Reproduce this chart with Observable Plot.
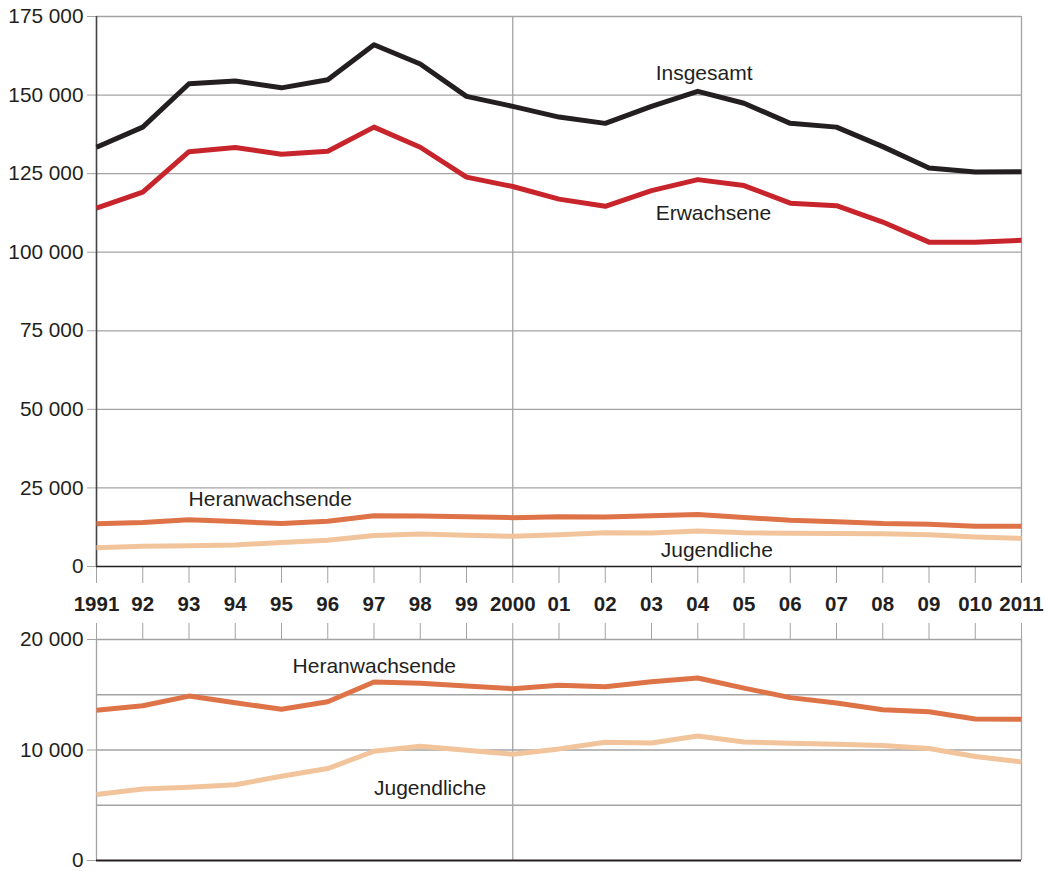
<!DOCTYPE html>
<html><head><meta charset="utf-8">
<script src="https://cdn.jsdelivr.net/npm/d3@7"></script>
<script src="https://cdn.jsdelivr.net/npm/@observablehq/plot@0.6"></script>
<style>
body{margin:0;background:#fff;}
#chart{width:1048px;height:871px;overflow:hidden;}
#chart svg{display:block;}
</style></head><body><div id="chart"></div>
<script>
const years = [1991,1992,1993,1994,1995,1996,1997,1998,1999,2000,2001,2002,2003,2004,2005,2006,2007,2008,2009,2010,2011];
const yearLabels = ["1991","92","93","94","95","96","97","98","99","2000","01","02","03","04","05","06","07","08","09","010","2011"];
const insgesamt = [133400,139800,153600,154500,152300,154900,166000,159900,149600,146400,143000,141000,146400,151200,147400,141000,139800,133600,126800,125500,125600];
const erwachsene = [114000,119100,132000,133300,131200,132100,139800,133400,123900,120900,116900,114600,119600,123100,121200,115600,114800,109600,103200,103200,103800];
const heranwachsende = [13590,14010,14880,14280,13680,14370,16150,16030,15790,15550,15850,15730,16180,16510,15600,14740,14250,13650,13470,12800,12780];
const jugendliche = [5980,6480,6640,6850,7630,8320,9890,10340,9980,9620,10100,10700,10640,11270,10730,10610,10520,10400,10130,9410,8920];
const topTicks = [0,25000,50000,75000,100000,125000,150000,175000];
const bottomGrid = [5000,10000,15000,20000];
const bottomTicks = [0,10000,20000];
// label anchors (year, value)
const topLabels = [
  {text:"Insgesamt", year:2003.09, value:157000},
  {text:"Erwachsene", year:2003.09, value:112500},
  {text:"Heranwachsende", year:1992.99, value:21300},
  {text:"Jugendliche", year:2003.2, value:5100}
];
const bottomLabels = [
  {text:"Heranwachsende", year:1995.24, value:17600},
  {text:"Jugendliche", year:1997.0, value:6550}
];

const fmt = d => d3.format(",")(d).replace(/,/g, " ");
const rows = (arr) => years.map((y,i) => ({year:y, value:arr[i]}));
const FONT = "'Liberation Sans', Arial, Helvetica, sans-serif";
const GRID = "#a3a3a3";
const DARK = "#231f20";
const lineOpts = {x:"year", y:"value", strokeWidth:5, strokeLinecap:"butt", strokeLinejoin:"round"};

const topPlot = Plot.plot({
  width:1048, height:616,
  marginLeft:96, marginRight:27, marginTop:16, marginBottom:50,
  style:{fontFamily:FONT, background:"#fff", color:DARK, overflow:"visible"},
  x:{domain:[1991,2011]},
  y:{domain:[0,175000]},
  marks:[
    Plot.ruleY(topTicks.filter(d=>d>0), {stroke:GRID, strokeWidth:1.3}),
    Plot.ruleX([2000,2011], {stroke:GRID, strokeWidth:1.3}),
    Plot.axisY({ticks:topTicks, tickSize:9, tickPadding:4, tickFormat:fmt, fontSize:20.8, stroke:GRID, fill:DARK, label:null}),
    Plot.axisX({ticks:years, tickSize:17, tickPadding:13, tickFormat:d=>yearLabels[years.indexOf(d)], fontSize:20.5, fontWeight:"bold", stroke:GRID, fill:DARK, label:null}),
    Plot.ruleY([0], {stroke:DARK, strokeWidth:1.6}),
    Plot.ruleX([1991], {stroke:"#444", strokeWidth:1.6}),
    Plot.line(rows(jugendliche), {...lineOpts, stroke:"#f2c49b"}),
    Plot.line(rows(heranwachsende), {...lineOpts, stroke:"#de7348"}),
    Plot.line(rows(erwachsene), {...lineOpts, stroke:"#c8242b"}),
    Plot.line(rows(insgesamt), {...lineOpts, stroke:"#231f20"}),
    Plot.text(topLabels, {x:"year", y:"value", text:"text", textAnchor:"start", lineAnchor:"middle", fontSize:21, fill:DARK})
  ]
});

const bottomPlot = Plot.plot({
  width:1048, height:255,
  marginLeft:96, marginRight:27, marginTop:23, marginBottom:11,
  style:{fontFamily:FONT, background:"#fff", color:DARK, overflow:"visible"},
  x:{domain:[1991,2011]},
  y:{domain:[0,20000]},
  marks:[
    Plot.ruleY(bottomGrid, {stroke:GRID, strokeWidth:1.3}),
    Plot.ruleX([1991,2000,2011], {stroke:GRID, strokeWidth:1.3}),
    Plot.axisY({ticks:bottomTicks, tickSize:9, tickPadding:4, tickFormat:fmt, fontSize:20.8, stroke:GRID, fill:DARK, label:null}),
    Plot.axisX({anchor:"top", ticks:years, tickSize:17, tickFormat:()=>"", stroke:GRID, label:null}),
    Plot.ruleY([0], {stroke:DARK, strokeWidth:1.8}),
    Plot.line(rows(jugendliche), {...lineOpts, stroke:"#f2c49b"}),
    Plot.line(rows(heranwachsende), {...lineOpts, stroke:"#de7348"}),
    Plot.text(bottomLabels, {x:"year", y:"value", text:"text", textAnchor:"start", lineAnchor:"middle", fontSize:21, fill:DARK})
  ]
});

document.getElementById("chart").append(topPlot, bottomPlot);
</script>
</body></html>
